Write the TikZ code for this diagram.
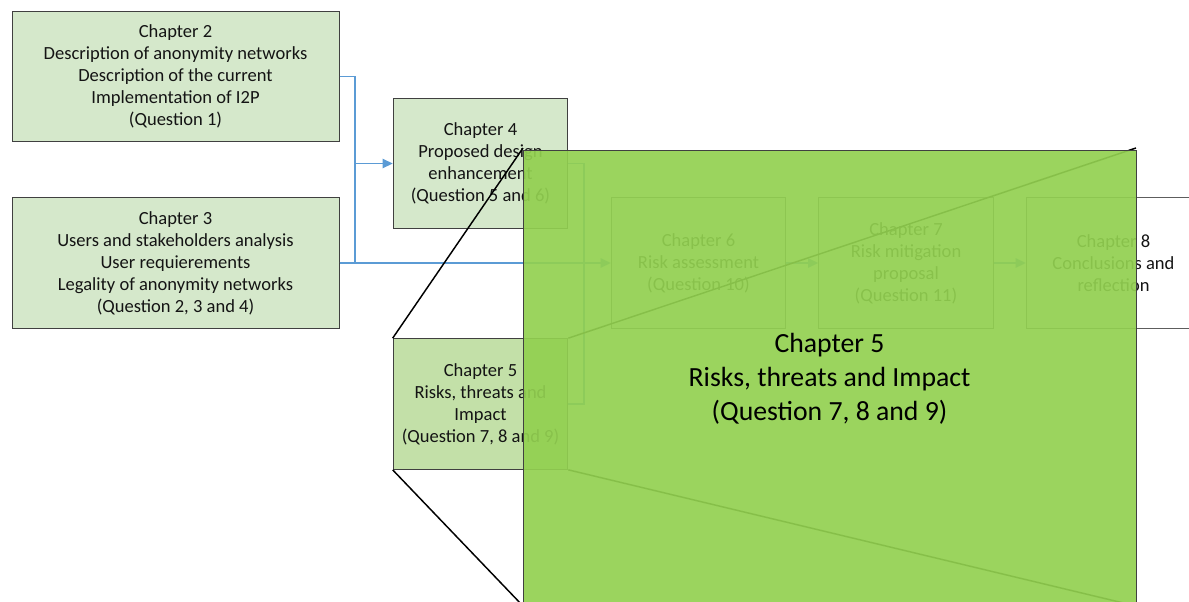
\documentclass[tikz,border=0pt]{standalone}
\usepackage{fontspec}
\setmainfont{Carlito}
\usetikzlibrary{arrows.meta}
\definecolor{boxgreen}{HTML}{D5E8CB}
\definecolor{boxgreendark}{HTML}{C3E0A8}
\definecolor{zoomgreen}{HTML}{92D050}
\definecolor{linkblue}{HTML}{5B9BD5}
\definecolor{edgegray}{HTML}{404040}
\definecolor{inkcol}{HTML}{141414}
\begin{document}
\begin{tikzpicture}[x=0.75pt,y=-0.75pt,
  chapbox/.style={draw=edgegray, line width=0.75pt, fill=boxgreen, align=center,
    inner sep=0pt, text=inkcol, font=\fontsize{13.9}{16.5}\selectfont},
  wide/.style={minimum width=245.25pt, minimum height=98pt},
  narrow/.style={minimum width=131pt, minimum height=98pt},
  plainbox/.style={chapbox, fill=white, draw=edgegray!85},
  link/.style={draw=linkblue, line width=1pt},
  tip/.style={-{Triangle[length=7.5pt,width=7pt]}},
  callout/.style={draw=black, line width=1.1pt},
  zoombox/.style={draw=edgegray, line width=0.75pt, fill=zoomgreen, fill opacity=0.92,
    text opacity=1, text=black, align=center, inner sep=0pt,
    minimum width=459.75pt, minimum height=343.5pt,
    font=\fontsize{20.8}{25.5}\selectfont}]
\useasboundingbox (0,0) rectangle (1189,601);
\clip (0,0) rectangle (1189,601);

% chapter boxes
\node[chapbox, wide] (ch2) at (175.5,76.5)
  {Chapter 2\\Description of anonymity networks\\Description of the current\\Implementation of I2P\\(Question 1)};
\node[chapbox, wide] (ch3) at (175.5,263)
  {Chapter 3\\Users and stakeholders analysis\\User requierements\\Legality of anonymity networks\\(Question 2, 3 and 4)};
\node[chapbox, narrow] (ch4) at (480.5,163.5)
  {Chapter 4\\Proposed design\\enhancement\\(Question 5 and 6)};
\node[chapbox, narrow, fill=boxgreendark] (ch5) at (480.5,404)
  {Chapter 5\\Risks, threats and\\Impact\\(Question 7, 8 and 9)};
\node[plainbox, narrow] (ch6) at (698.5,263)
  {Chapter 6\\Risk assessment\\(Question 10)};
\node[plainbox, narrow] (ch7) at (906,263)
  {Chapter 7\\Risk mitigation\\proposal\\(Question 11)};
\node[plainbox, narrow] (ch8) at (1113.5,263)
  {Chapter 8\\Conclusions and\\reflection};

% connector junctions
\coordinate (split) at (355,163.5);
\coordinate (join) at (584,263);

\draw[link] (ch2.east) -| (split);
\draw[link] (ch3.east) -| (split);
\draw[link, tip] (split) -- (ch4.west);
\draw[link, tip] (ch3.east) -- (ch6.west);
\draw[link] (ch4.east) -| (join);
\draw[link] (ch5.east) -| (join);
\draw[link, tip] (ch6.east) -- (ch7.west);
\draw[link, tip] (ch7.east) -- (ch8.west);

% enlarged view of chapter 5
\coordinate (zoomNW) at (523,148);
\coordinate (zoomNE) at (1136,148);
\coordinate (zoomSW) at (523,606);
\coordinate (zoomSE) at (1136,606);
\draw[callout] (ch5.north west) -- (zoomNW);
\draw[callout] (ch5.south west) -- (zoomSW);
\draw[callout] (ch5.north east) -- (zoomNE);
\draw[callout] (ch5.south east) -- (zoomSE);

\node[zoombox] (zoom) at (829.5,379)
  {Chapter 5\\Risks, threats and Impact\\(Question 7, 8 and 9)};
\end{tikzpicture}
\end{document}
